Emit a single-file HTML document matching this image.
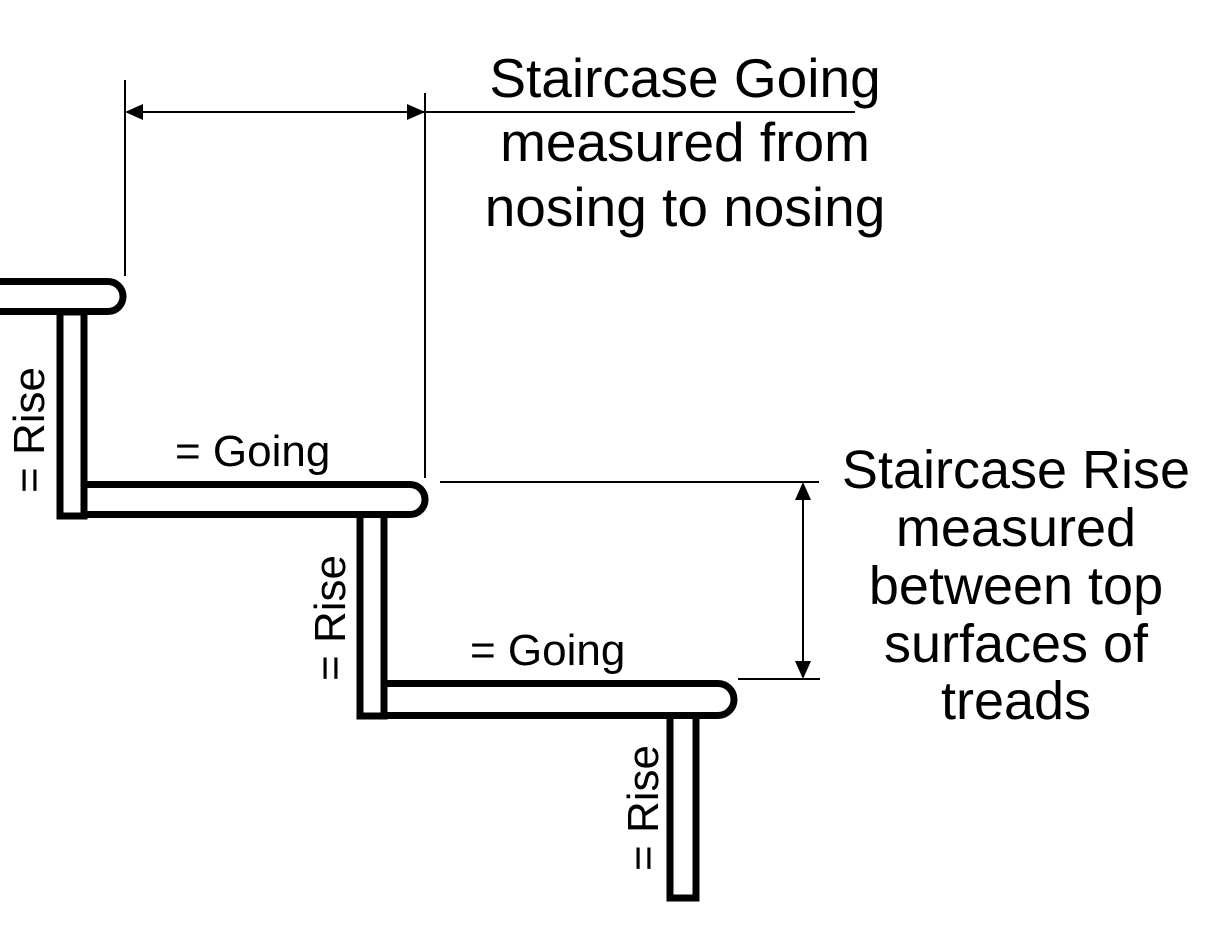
<!DOCTYPE html>
<html><head><meta charset="utf-8"><style>
html,body{margin:0;padding:0;background:#fff;}
svg{display:block;}
text{font-family:"Liberation Sans",sans-serif;fill:#000;}
</style></head><body>
<svg width="1223" height="930" viewBox="0 0 1223 930" xmlns="http://www.w3.org/2000/svg">
<g fill="#fff" stroke="#000" stroke-width="7">
<rect x="60" y="312" width="24" height="204"/>
<rect x="360" y="512" width="24" height="204"/>
<rect x="670" y="714" width="26" height="184"/>
<path d="M-10 281.5 H108 A15 15 0 0 1 108 311.5 H-10 Z"/>
<path d="M84 484.5 H410 A15 15 0 0 1 410 514.5 H84 Z"/>
<path d="M384 683.5 H718 A15 15 0 0 1 718 715.5 H384 Z"/>
</g>
<g stroke="#000" stroke-width="2" fill="none">
<line x1="125" y1="80" x2="125" y2="276"/>
<line x1="425" y1="93" x2="425" y2="478"/>
<line x1="135" y1="112" x2="855" y2="112"/>
<line x1="440" y1="482" x2="819" y2="482"/>
<line x1="738" y1="679" x2="820" y2="679"/>
<line x1="803" y1="495" x2="803" y2="666"/>
</g>
<g fill="#000">
<polygon points="125,112 143,104 143,120"/>
<polygon points="425,112 407,104 407,120"/>
<polygon points="803,482 795,500 811,500"/>
<polygon points="803,679 795,661 811,661"/>
</g>
<g font-size="55" text-anchor="middle">
<text x="685" y="97">Staircase Going</text>
<text x="685" y="161">measured from</text>
<text x="685" y="226">nosing to nosing</text>
</g>
<g font-size="54" text-anchor="middle">
<text x="1016" y="488">Staircase Rise</text>
<text x="1016" y="546">measured</text>
<text x="1016" y="604">between top</text>
<text x="1016" y="662">surfaces of</text>
<text x="1016" y="719">treads</text>
</g>
<g font-size="44">
<text x="175" y="466">= Going</text>
<text x="470" y="665">= Going</text>
<text transform="translate(44,430) rotate(-90)" text-anchor="middle">= Rise</text>
<text transform="translate(345,618) rotate(-90)" text-anchor="middle">= Rise</text>
<text transform="translate(658,808) rotate(-90)" text-anchor="middle">= Rise</text>
</g>
</svg>
</body></html>
